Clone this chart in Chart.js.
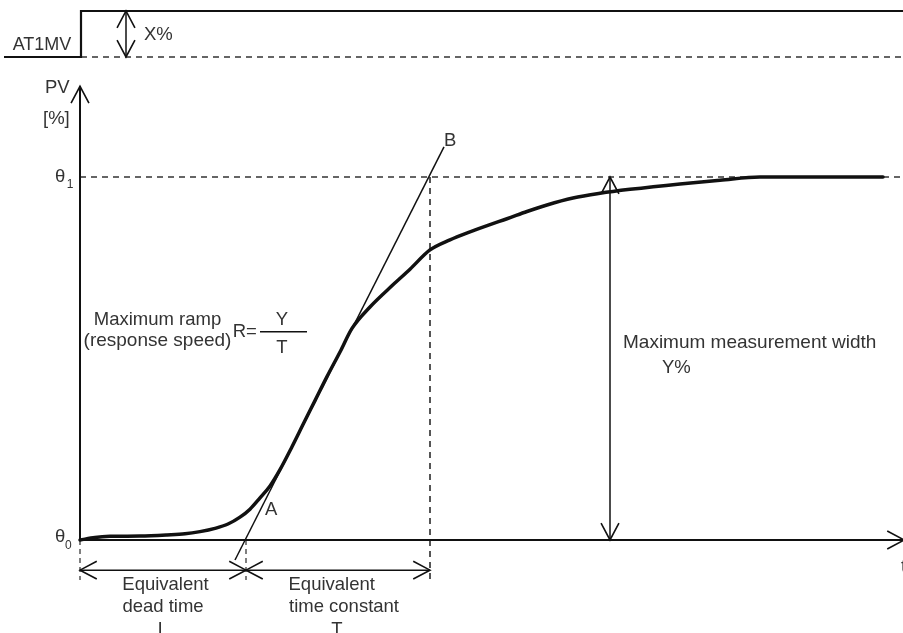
<!DOCTYPE html>
<html>
<head>
<meta charset="utf-8">
<script src="https://cdn.jsdelivr.net/npm/chart.js@4.4.1/dist/chart.umd.min.js"></script>
<style>
  html, body { margin: 0; padding: 0; background: #fff; }
  #wrap { width: 903px; height: 633px; }
</style>
</head>
<body>
<div id="wrap"><canvas id="chart" width="903" height="633"></canvas></div>
<script>
// PV step response (time units, PV in % of the measured width)
const pvTime = [0, 1.5, 3, 6, 8.7, 10.5, 12, 13.5, 14.8, 16, 17, 18, 19, 20, 21.2, 22.3, 23.5, 24.7, 26, 27.2,
                29, 31.3, 33, 35, 37, 39, 41, 42.7, 44.7, 46.7, 49.3, 52, 55, 60, 64, 68, 80.3];
const pvValue = [0, 0.7, 1.0, 1.1, 1.4, 1.7, 2.3, 3.2, 4.4, 6.3, 8.5, 11.6, 14.9, 19.4, 25.7, 31.8, 38.4, 45.0, 51.8, 58.3,
                 64.2, 70.3, 74.6, 79.9, 82.7, 84.9, 86.9, 88.5, 90.5, 92.3, 94.2, 95.5, 96.6, 98.1, 99.1, 100, 100];

// tangent line A-B at the maximum ramp
const tangentTime = [15.5, 36.4];
const tangentValue = [-5.5, 108.3];

// characteristic values
const deadTimeL = 16.6;
const timeConstT = 18.4;
const theta0 = 0;
const theta1 = 100;
const mvLevels = [0, 100];      // MV before / after the X% step
const timeEnd = 82.3;
const widthArrowTime = 53;      // where the Y% arrow is drawn
const dimLevel = -8.3;          // level of the L / T dimension arrows
const dropLevel = -11;          // bottom of the dashed drop lines

const labels = [
  { text: "AT1MV", t: -3.8, v: 15.2, axis: "yMV", align: "center", size: 18 },
  { text: "X%", t: 6.4, v: 37, axis: "yMV" },
  { text: "PV", t: -3.5, v: 123.1 },
  { text: "[%]", t: -3.7, v: 114.5 },
  { text: "θ", t: -2.5, v: -0.5 },
  { text: "0", t: -1.5, v: -2.5, size: 12 },
  { text: "θ", t: -2.5, v: 98.7 },
  { text: "1", t: -1.33, v: 97, size: 12 },
  { text: "A", t: 18.5, v: 6.9 },
  { text: "B", t: 36.4, v: 108.5 },
  { text: "Maximum ramp", t: 7.75, v: 59.2, align: "center" },
  { text: "(response speed)", t: 7.75, v: 53.5, align: "center", size: 19 },
  { text: "R=", t: 15.27, v: 56 },
  { text: "Y", t: 20.2, v: 59.2, align: "center" },
  { text: "T", t: 20.2, v: 51.5, align: "center" },
  { text: "Maximum measurement width", t: 54.3, v: 52.9, size: 19 },
  { text: "Y%", t: 58.2, v: 46 },
  { text: "Equivalent", t: 8.55, v: -13.8, align: "center" },
  { text: "dead time", t: 8.3, v: -19.8, align: "center" },
  { text: "L", t: 8.3, v: -26.2, align: "center" },
  { text: "Equivalent", t: 25.17, v: -13.8, align: "center" },
  { text: "time constant", t: 26.4, v: -19.8, align: "center" },
  { text: "T", t: 25.7, v: -26.2, align: "center" },
  { text: "t", t: 82.1, v: -8.8 },
];

const INK = "#111";
const DASH = "#333";

const pts = (xs, ys) => xs.map((x, i) => ({ x: x, y: ys[i] }));

// one straight or dashed stroke of the diagram
const seg = (xs, ys, opts) => Object.assign({
  data: pts(xs, ys),
  borderColor: INK,
  borderWidth: 1.5,
  pointRadius: 0,
  tension: 0,
  fill: false,
  clip: false,
}, opts || {});

const drawHead = (ctx, from, tip, color) => {
  const a = Math.atan2(tip.y - from.y, tip.x - from.x);
  const len = 19, spread = 0.49;
  ctx.save();
  ctx.strokeStyle = color;
  ctx.lineWidth = 1.6;
  ctx.beginPath();
  ctx.moveTo(tip.x - len * Math.cos(a - spread), tip.y - len * Math.sin(a - spread));
  ctx.lineTo(tip.x, tip.y);
  ctx.lineTo(tip.x - len * Math.cos(a + spread), tip.y - len * Math.sin(a + spread));
  ctx.stroke();
  ctx.restore();
};

const diagramPlugin = {
  id: "diagram",
  afterDatasetsDraw(chart) {
    const ctx = chart.ctx;
    chart.data.datasets.forEach((ds, i) => {
      const p = chart.getDatasetMeta(i).data;
      if (ds.arrowEnd) drawHead(ctx, p[p.length - 2], p[p.length - 1], ds.borderColor);
      if (ds.arrowStart) drawHead(ctx, p[1], p[0], ds.borderColor);
    });
    const xs = chart.scales.x;
    ctx.save();
    ctx.fillStyle = "#333";
    ctx.textBaseline = "alphabetic";
    labels.forEach((l) => {
      const ys = chart.scales[l.axis || "y"];
      ctx.font = (l.size || 18.5) + "px 'Liberation Sans', Arial, sans-serif";
      ctx.textAlign = l.align || "left";
      ctx.fillText(l.text, xs.getPixelForValue(l.t), ys.getPixelForValue(l.v));
    });
    ctx.restore();
  },
};

const L = deadTimeL, LT = deadTimeL + timeConstT;

const ctx = document.getElementById("chart").getContext("2d");
new Chart(ctx, {
  type: "line",
  data: {
    datasets: [
      // response curve on top
      seg(pvTime, pvValue, { borderWidth: 3.5, cubicInterpolationMode: "monotone", borderCapStyle: "round" }),
      seg(tangentTime, tangentValue, { borderWidth: 1.5 }),
      // MV step
      seg([-7.6, 0.1, 0.1, timeEnd], [mvLevels[0], mvLevels[0], mvLevels[1], mvLevels[1]], { yAxisID: "yMV", borderWidth: 2.2 }),
      seg([0.1, timeEnd], [mvLevels[0], mvLevels[0]], { yAxisID: "yMV", borderDash: [6, 5], borderColor: DASH }),
      seg([4.6, 4.6], mvLevels, { yAxisID: "yMV", arrowStart: true, arrowEnd: true }),
      // axes
      seg([0, 0], [theta0, 125], { borderWidth: 2, arrowEnd: true }),
      seg([0, 82.4], [theta0, theta0], { borderWidth: 2, arrowEnd: true }),
      // guides
      seg([0, timeEnd], [theta1, theta1], { borderDash: [6, 5], borderColor: DASH }),
      seg([0, 0], [theta0, dropLevel], { borderDash: [5, 4], borderColor: "#555" }),
      seg([L, L], [theta0, dropLevel], { borderDash: [5, 4], borderColor: "#555" }),
      seg([LT, LT], [theta1, dropLevel], { borderDash: [6, 5], borderColor: "#555", borderWidth: 2 }),
      // dimension arrows
      seg([widthArrowTime, widthArrowTime], [theta0, theta1], { arrowStart: true, arrowEnd: true }),
      seg([0, L], [dimLevel, dimLevel], { arrowStart: true, arrowEnd: true }),
      seg([L, LT], [dimLevel, dimLevel], { arrowStart: true, arrowEnd: true }),
      // fraction bar Y / T
      seg([18, 22.7], [57.4, 57.4], { borderWidth: 1.5 }),
    ],
  },
  options: {
    responsive: false,
    animation: false,
    devicePixelRatio: 1,
    layout: { padding: 0 },
    scales: {
      x: { type: "linear", min: -8, max: 82.3, display: false },
      y: { type: "linear", min: -25.62, max: 148.76, display: false },
      yMV: { type: "linear", min: -1252.2, max: 123.9, display: false },
    },
    plugins: {
      legend: { display: false },
      tooltip: { enabled: false },
    },
    elements: { point: { radius: 0 } },
  },
  plugins: [diagramPlugin],
});
</script>
</body>
</html>
